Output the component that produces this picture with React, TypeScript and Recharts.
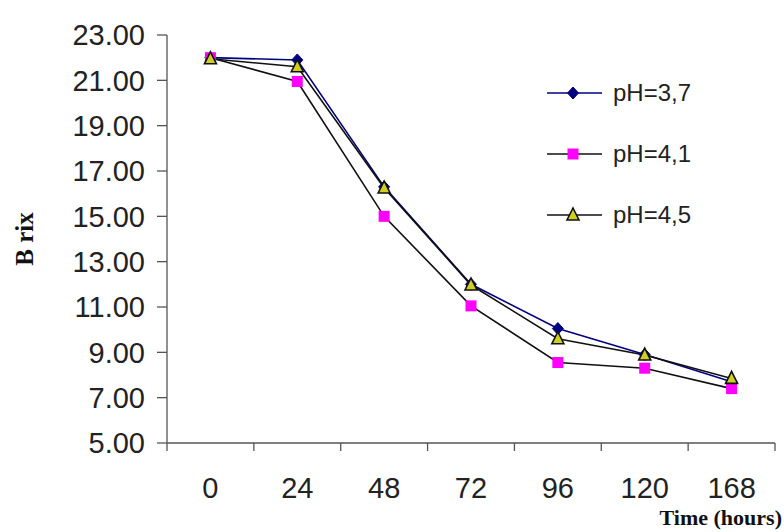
import { LineChart, Line, XAxis, YAxis } from "recharts";

const hours = ["0", "24", "48", "72", "96", "120", "168"];
const ph37 = [22.0, 21.9, 16.3, 12.0, 10.05, 8.9, 7.7];
const ph41 = [22.0, 20.95, 15.0, 11.05, 8.55, 8.3, 7.4];
const ph45 = [21.95, 21.6, 16.25, 11.97, 9.6, 8.88, 7.85];
const yTicks = [5, 7, 9, 11, 13, 15, 17, 19, 21, 23];

const data = hours.map((h, i) => ({ idx: i, hour: h, ph37: ph37[i], ph41: ph41[i], ph45: ph45[i] }));
const centerTicks = hours.map((_, i) => i);
const boundTicks = [...hours.map((_, i) => i - 0.5), hours.length - 0.5];

const NAVY = "#000080";
const MAGENTA = "#FF00FF";
const OLIVE = "#CFCF1F";
const AXIS = "#555";
const SANS = "Liberation Sans, Arial, sans-serif";
const SERIF = "Liberation Serif, Times New Roman, serif";

function Diamond({ cx, cy }: any) {
  if (cx == null || cy == null) return null;
  return <path d={`M${cx},${cy - 6} L${cx + 5.5},${cy} L${cx},${cy + 6} L${cx - 5.5},${cy} Z`} fill={NAVY} stroke={NAVY} />;
}

function Square({ cx, cy }: any) {
  if (cx == null || cy == null) return null;
  return <rect x={cx - 5.5} y={cy - 5.5} width={11} height={11} fill={MAGENTA} />;
}

function Triangle({ cx, cy }: any) {
  if (cx == null || cy == null) return null;
  return <path d={`M${cx},${cy - 7} L${cx + 6},${cy + 5} L${cx - 6},${cy + 5} Z`} fill={OLIVE} stroke="#111" strokeWidth={1.6} />;
}

const legendItems = [
  { label: "pH=3,7", color: NAVY, Mark: Diamond },
  { label: "pH=4,1", color: "#111", Mark: Square },
  { label: "pH=4,5", color: "#111", Mark: Triangle },
];

// legend sits over the plot, kept outside recharts so it doesn't eat plot space
function LegendBox() {
  return (
    <div style={{ position: "absolute", left: 545, top: 62 }}>
      {legendItems.map(({ label, color, Mark }) => (
        <div key={label} style={{ display: "flex", alignItems: "center", height: 61 }}>
          <svg width={60} height={20}>
            <line x1={2} y1={10} x2={57} y2={10} stroke={color} strokeWidth={1.6} />
            <Mark cx={28} cy={10} />
          </svg>
          <span style={{ fontFamily: SANS, fontSize: 24, color: "#222", marginLeft: 8 }}>
            {label}
          </span>
        </div>
      ))}
    </div>
  );
}

function XTick({ x, y, payload }: any) {
  return (
    <text x={x} y={y + 31} textAnchor="middle" dominantBaseline="central"
      fontFamily={SANS} fontSize={29} fill="#222">
      {hours[payload.value]}
    </text>
  );
}

export default function App() {
  return (
    <div style={{ position: "absolute", left: 0, top: 0, width: 784, height: 532, background: "#fff" }}>
      <LineChart width={784} height={532} data={data} margin={{ top: 35, right: 9, left: 10, bottom: 0 }}>
        <XAxis xAxisId="bounds" type="number" dataKey="idx" domain={[-0.5, hours.length - 0.5]}
          ticks={boundTicks} tickFormatter={() => ""} height={12} tickSize={8}
          axisLine={{ stroke: AXIS, strokeWidth: 1.3 }} tickLine={{ stroke: AXIS, strokeWidth: 1.3 }} />
        <XAxis xAxisId="main" type="number" dataKey="idx" domain={[-0.5, hours.length - 0.5]}
          ticks={centerTicks} tick={<XTick />} height={77} axisLine={false} tickLine={false} tickSize={0}
          label={{
            content: ({ viewBox }: any) => (
              <text x={viewBox.x + viewBox.width + 7} y={525} textAnchor="end"
                fontFamily={SERIF} fontWeight="bold" fontSize={22} fill="#111">
                Time (hours)
              </text>
            ),
          }} />
        <YAxis type="number" domain={[5, 23]} ticks={yTicks} width={157} interval={0}
          tickFormatter={(v: number) => v.toFixed(2)} tickSize={10} tickMargin={12}
          tick={{ fontFamily: SANS, fontSize: 29, fill: "#222" }}
          axisLine={{ stroke: AXIS, strokeWidth: 1.3 }} tickLine={{ stroke: AXIS, strokeWidth: 1.3 }}
          label={{
            content: ({ viewBox }: any) => {
              const cx = 24;
              const cy = viewBox.y + viewBox.height / 2;
              return (
                <text x={cx} y={cy} transform={`rotate(-90 ${cx} ${cy})`} textAnchor="middle" dominantBaseline="central"
                  fontFamily={SERIF} fontWeight="bold" fontSize={25} fill="#111">
                  B rix
                </text>
              );
            },
          }} />
        <Line xAxisId="main" dataKey="ph37" name="pH=3,7" stroke={NAVY} strokeWidth={1.6}
          dot={<Diamond />} activeDot={false} isAnimationActive={false} />
        <Line xAxisId="main" dataKey="ph41" name="pH=4,1" stroke="#111" strokeWidth={1.6}
          dot={<Square />} activeDot={false} isAnimationActive={false} />
        <Line xAxisId="main" dataKey="ph45" name="pH=4,5" stroke="#111" strokeWidth={1.6}
          dot={<Triangle />} activeDot={false} isAnimationActive={false} />
      </LineChart>
      <LegendBox />
    </div>
  );
}
